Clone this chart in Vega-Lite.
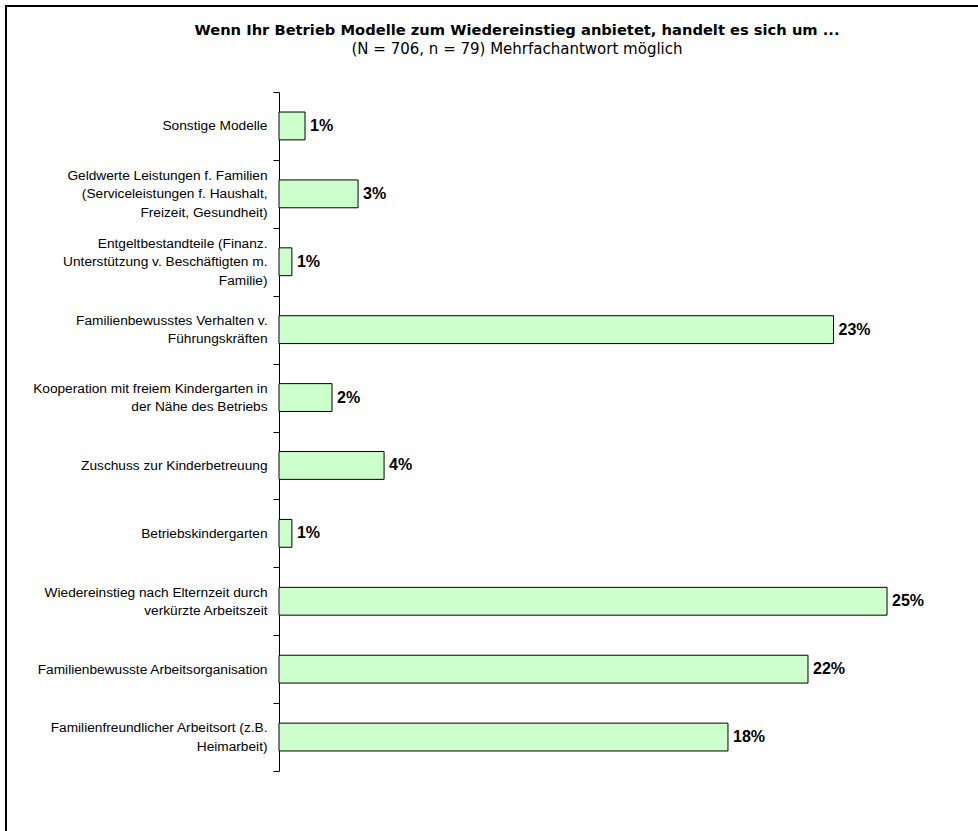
{
  "$schema": "https://vega.github.io/schema/vega-lite/v6.json",
  "width": 972,
  "height": 825,
  "autosize": {"type": "none"},
  "padding": {"left": 6, "top": 6, "right": 0, "bottom": 0},
  "background": "white",
  "config": {
    "font": "Liberation Sans",
    "view": {"stroke": "black", "strokeWidth": 2, "strokeDash": [972, 1797, 825]}
  },
  "title": {
    "text": "Wenn Ihr Betrieb Modelle zum Wiedereinstieg anbietet, handelt es sich um ...",
    "subtitle": "(N = 706, n = 79) Mehrfachantwort möglich",
    "anchor": "middle",
    "orient": "top",
    "frame": "group",
    "offset": -58,
    "dx": 25,
    "font": "DejaVu Sans",
    "fontSize": 14.7,
    "fontWeight": "bold",
    "color": "black",
    "subtitleFont": "DejaVu Sans",
    "subtitleFontSize": 15,
    "subtitleColor": "black",
    "subtitlePadding": 4
  },
  "data": {
    "values": [
      {"category": "Sonstige Modelle", "share": 0.0107},
      {"category": "Geldwerte Leistungen f. Familien|(Serviceleistungen f. Haushalt,|Freizeit, Gesundheit)", "share": 0.0325},
      {"category": "Entgeltbestandteile (Finanz.|Unterstützung v. Beschäftigten m.|Familie)", "share": 0.0053},
      {"category": "Familienbewusstes Verhalten v.|Führungskräften", "share": 0.228},
      {"category": "Kooperation mit freiem Kindergarten in|der Nähe des Betriebs", "share": 0.0218},
      {"category": "Zuschuss zur Kinderbetreuung", "share": 0.0432},
      {"category": "Betriebskindergarten", "share": 0.0053},
      {"category": "Wiedereinstieg nach Elternzeit durch|verkürzte Arbeitszeit", "share": 0.25},
      {"category": "Familienbewusste Arbeitsorganisation", "share": 0.2175},
      {"category": "Familienfreundlicher Arbeitsort (z.B.|Heimarbeit)", "share": 0.1846}
    ]
  },
  "encoding": {
    "y": {
      "field": "category",
      "type": "nominal",
      "sort": null,
      "scale": {"range": [86, 765], "paddingInner": 0, "paddingOuter": 0},
      "axis": {
        "title": null,
        "offset": -273,
        "tickBand": "extent",
        "tickSize": 6,
        "tickColor": "black",
        "domainColor": "black",
        "domainWidth": 1,
        "grid": false,
        "labelColor": "black",
        "labelFont": "Liberation Sans",
        "labelFontSize": 13.7,
        "labelPadding": 6,
        "labelLimit": 0,
        "labelLineHeight": 18.5,
        "labelOffset": {
          "condition": [
            {"test": "length(split(datum.value, '|')) == 3", "value": -18.5},
            {"test": "length(split(datum.value, '|')) == 2", "value": -9.25}
          ],
          "value": 0
        },
        "labelExpr": "split(datum.label, '|')"
      }
    }
  },
  "layer": [
    {
      "mark": {"type": "bar", "height": {"band": 0.41}, "fill": "#CCFFCC", "stroke": "black", "strokeWidth": 1},
      "encoding": {
        "x": {"field": "share", "type": "quantitative", "scale": {"domain": [-0.11225, 0.2874], "nice": false, "zero": false}, "axis": null},
        "x2": {"datum": 0}
      }
    },
    {
      "mark": {"type": "text", "align": "left", "baseline": "middle", "dx": 5, "fontWeight": "bold", "fontSize": 16, "color": "black"},
      "encoding": {
        "x": {"field": "share", "type": "quantitative"},
        "text": {"field": "share", "type": "quantitative", "format": ".0%"}
      }
    }
  ]
}
